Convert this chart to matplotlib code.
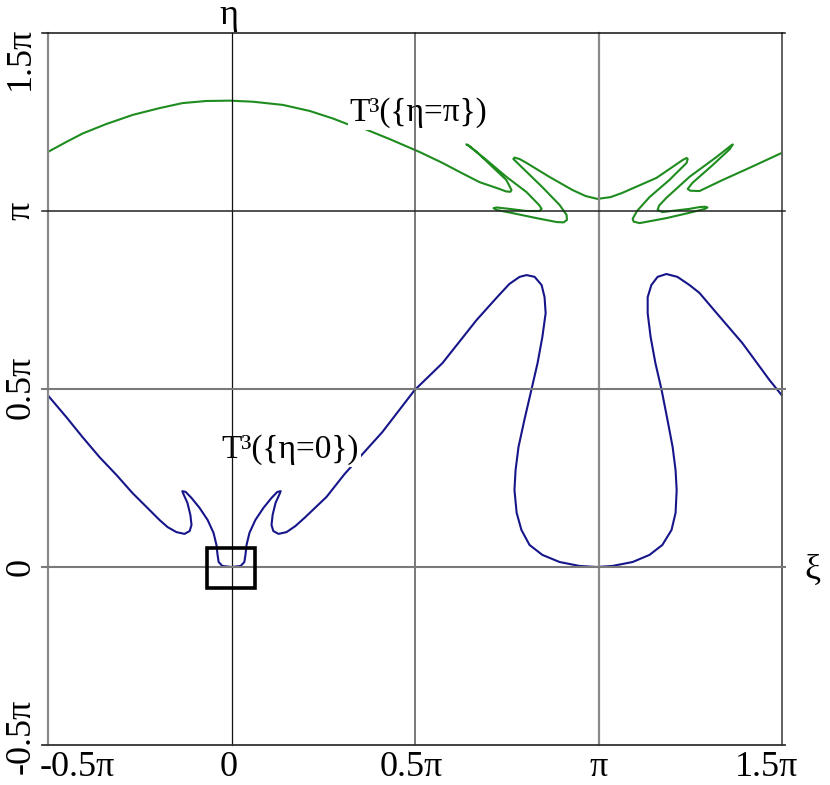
import matplotlib
matplotlib.use('Agg')
import matplotlib.pyplot as plt
import matplotlib.transforms as mtransforms
from matplotlib.patches import Rectangle

plt.rcParams['font.family'] = ['Liberation Serif', 'DejaVu Serif']

# all coordinates in units of pi
blue_x = [-0.501, -0.450, -0.406, -0.360, -0.313, -0.270, -0.232, -0.196, -0.174, -0.150,
          -0.128, -0.114, -0.109, -0.112, -0.120, -0.131, -0.134, -0.125, -0.109, -0.087,
          -0.065, -0.049, -0.041, -0.038, -0.035, -0.025, 0.0, 0.025, 0.035, 0.038,
          0.041, 0.049, 0.065, 0.087, 0.109, 0.125, 0.134, 0.131, 0.120, 0.112,
          0.109, 0.114, 0.128, 0.150, 0.174, 0.199, 0.259, 0.308, 0.362, 0.411,
          0.499, 0.575, 0.668, 0.722, 0.757, 0.785, 0.804, 0.826, 0.845, 0.853,
          0.856, 0.847, 0.834, 0.817, 0.798, 0.782, 0.774, 0.771, 0.777, 0.790,
          0.812, 0.847, 0.894, 0.948, 0.995, 1.038, 1.093, 1.139, 1.174, 1.199,
          1.210, 1.213, 1.210, 1.202, 1.188, 1.172, 1.155, 1.142, 1.134, 1.134,
          1.144, 1.161, 1.185, 1.215, 1.248, 1.275, 1.322, 1.392, 1.466, 1.499]
blue_y = [0.483, 0.421, 0.365, 0.309, 0.258, 0.208, 0.169, 0.132, 0.112, 0.098,
          0.093, 0.101, 0.118, 0.146, 0.180, 0.205, 0.213, 0.211, 0.194, 0.166,
          0.132, 0.096, 0.062, 0.034, 0.014, 0.003, 0.0, 0.003, 0.014, 0.034,
          0.062, 0.096, 0.132, 0.166, 0.194, 0.211, 0.213, 0.205, 0.180, 0.146,
          0.118, 0.101, 0.093, 0.098, 0.115, 0.138, 0.197, 0.261, 0.323, 0.379,
          0.497, 0.573, 0.694, 0.756, 0.795, 0.815, 0.820, 0.815, 0.792, 0.758,
          0.713, 0.646, 0.573, 0.497, 0.413, 0.337, 0.272, 0.216, 0.152, 0.104,
          0.062, 0.034, 0.014, 0.003, 0.0, 0.003, 0.014, 0.034, 0.062, 0.104,
          0.152, 0.216, 0.272, 0.337, 0.413, 0.497, 0.573, 0.646, 0.713, 0.758,
          0.792, 0.815, 0.823, 0.815, 0.792, 0.770, 0.713, 0.629, 0.525, 0.483]

green_x = [-0.500, -0.450, -0.405, -0.342, -0.269, -0.196, -0.134, -0.069, -0.005, 0.058,
           0.140, 0.213, 0.276, 0.316, 0.357, 0.431, 0.512, 0.575, 0.621, 0.676,
           0.730, 0.748, 0.760, 0.763, 0.749, 0.711, 0.668, 0.645, 0.640, 0.648,
           0.695, 0.749, 0.804, 0.838, 0.845, 0.839, 0.804, 0.757, 0.722, 0.714,
           0.722, 0.766, 0.831, 0.886, 0.905, 0.914, 0.913, 0.894, 0.847, 0.793,
           0.768, 0.771, 0.785, 0.804, 0.866, 0.929, 0.965, 0.997, 1.033, 1.065,
           1.158, 1.229, 1.240, 1.243, 1.240, 1.193, 1.139, 1.105, 1.093, 1.096,
           1.112, 1.185, 1.256, 1.290, 1.297, 1.290, 1.275, 1.248, 1.174, 1.161,
           1.165, 1.185, 1.248, 1.322, 1.360, 1.366, 1.357, 1.311, 1.256, 1.243,
           1.250, 1.275, 1.338, 1.411, 1.499]
green_y = [1.166, 1.194, 1.218, 1.244, 1.270, 1.289, 1.303, 1.309, 1.310, 1.307,
           1.298, 1.281, 1.260, 1.244, 1.233, 1.202, 1.166, 1.135, 1.110, 1.081,
           1.062, 1.055, 1.054, 1.059, 1.087, 1.124, 1.166, 1.185, 1.187, 1.182,
           1.143, 1.096, 1.053, 1.017, 1.006, 1.000, 1.000, 1.006, 1.010, 1.008,
           1.003, 0.994, 0.980, 0.969, 0.968, 0.975, 0.989, 1.017, 1.067, 1.121,
           1.146, 1.150, 1.146, 1.135, 1.096, 1.059, 1.042, 1.034, 1.039, 1.051,
           1.093, 1.143, 1.149, 1.146, 1.135, 1.087, 1.039, 1.000, 0.978, 0.970,
           0.966, 0.980, 0.997, 1.006, 1.010, 1.012, 1.011, 1.006, 0.997, 1.003,
           1.015, 1.037, 1.096, 1.152, 1.183, 1.187, 1.173, 1.129, 1.079, 1.062,
           1.057, 1.056, 1.087, 1.121, 1.163]

tick_vals = [-0.5, 0, 0.5, 1, 1.5]
tick_text = ['-0.5π', '0', '0.5π', 'π', '1.5π']

BLUE = '#16168a'
GREEN = '#1f8c1f'

fig = plt.figure(figsize=(8.3, 7.85), dpi=100)
ax = fig.add_axes([48 / 830, 40 / 785, 734 / 830, 712 / 785])
ax.set_xlim(-0.5, 1.5)
ax.set_ylim(-0.5, 1.5)
for s in ax.spines.values():
    s.set_visible(False)
ax.set_xticks([])
ax.set_yticks([])

# grid / frame lines
v_cols = ['#8a8a8a', '#111111', '#555555', '#8a8a8a', '#555555']
v_lw = [1.6, 0.9, 1.1, 1.6, 1.3]
for x, c, w in zip(tick_vals, v_cols, v_lw):
    ax.plot([x, x], [-0.5, 1.5], color=c, lw=w, zorder=5, clip_on=False)
h_cols = ['#333333', '#7a7a7a', '#7a7a7a', '#222222', '#111111']
h_lw = [1.3, 1.5, 1.5, 1.1, 1.1]
for y, c, w in zip(tick_vals, h_cols, h_lw):
    ax.plot([-0.515, 1.508], [y, y], color=c, lw=w, zorder=5, clip_on=False)

ax.plot(blue_x, blue_y, color=BLUE, lw=1.5, zorder=2, solid_joinstyle='round')
ax.plot(green_x, green_y, color=GREEN, lw=1.5, zorder=2, solid_joinstyle='round')

ax.add_patch(Rectangle((-0.068, -0.059), 0.133, 0.112, fill=False,
                       edgecolor='black', lw=2.6, zorder=6))

bbox = dict(facecolor='white', edgecolor='none', pad=1.0)
ax.text(0.161, 0.329, 'T³({η=0})', fontsize=24, ha='center', va='center',
        bbox=bbox, zorder=3)
ax.text(0.51, 1.275, 'T³({η=π})', fontsize=24, ha='center', va='center',
        bbox=bbox, zorder=3)

# tick labels
xlab_pos = [-0.421, -0.008, 0.49, 1.0, 1.458]
xtrans = mtransforms.blended_transform_factory(ax.transData, ax.transAxes)
for x, t in zip(xlab_pos, tick_text):
    ax.text(x, -0.031, t, fontsize=26, ha='center', va='center', transform=xtrans)
ylab_pos = [-0.475, 0.0, 0.505, 1.0, 1.43]
ytrans = mtransforms.blended_transform_factory(ax.transAxes, ax.transData)
for y, t in zip(ylab_pos, tick_text):
    ax.text(-0.037, y, t, fontsize=26, ha='center', va='center', rotation=90,
            transform=ytrans)

ax.text(-0.008, 1.024, 'η', fontsize=26, ha='center', va='center', transform=xtrans)
ax.text(1.041, -0.01, 'ξ', fontsize=26, ha='center', va='center', transform=ytrans)

fig.savefig('out.png', dpi=100)
